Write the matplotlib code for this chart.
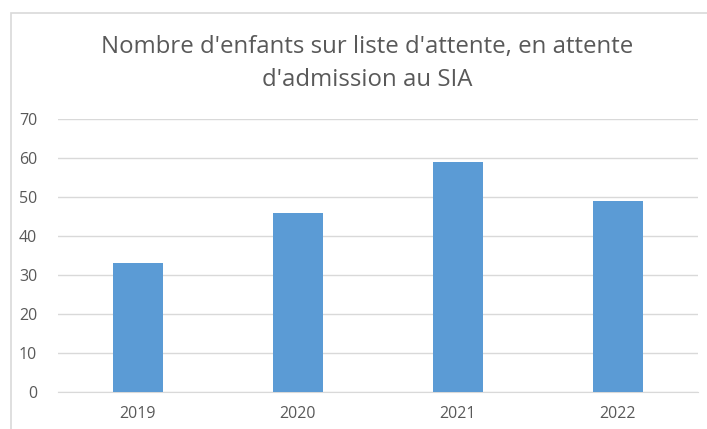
import matplotlib.pyplot as plt
from matplotlib.patches import Rectangle

# Data
years = ['2019', '2020', '2021', '2022']
counts = [33, 46, 59, 49]
y_ticks = [0, 10, 20, 30, 40, 50, 60, 70]

plt.rcParams['font.family'] = ['Open Sans', 'DejaVu Sans']

fig = plt.figure(figsize=(7.07, 4.29), dpi=100)
W, H = 707, 429

# chart frame (cropped on right and bottom in the original)
frame = Rectangle((11 / W, -0.05), 1.0, 1 - 13 / H + 0.05,
                  transform=fig.transFigure, fill=False,
                  edgecolor='#D9D9D9', linewidth=1.2)
fig.patches.append(frame)

ax = fig.add_axes([58 / W, 1 - 392 / H, (698 - 58) / W, (392 - 119) / H])
x = range(len(years))
ax.bar(x, counts, width=0.3125, color='#5B9BD5', zorder=3)

ax.set_xlim(-0.5, len(years) - 0.5)
ax.set_ylim(0, 70)
ax.set_yticks(y_ticks)
ax.set_xticks(list(x))
ax.set_xticklabels(years)
ax.grid(axis='y', color='#D9D9D9', linewidth=1, zorder=0)
for s in ['top', 'right', 'left']:
    ax.spines[s].set_visible(False)
ax.spines['bottom'].set_color('#D9D9D9')
ax.tick_params(axis='both', length=0, labelsize=11.5, labelcolor='#595959')
ax.tick_params(axis='y', pad=15)
ax.tick_params(axis='x', pad=10)

fig.text(0.5 + 14 / W, 1 - 47 / H, "Nombre d'enfants sur liste d'attente, en attente",
         ha='center', va='center', fontsize=17.3, color='#595959')
fig.text(0.5 + 14 / W, 1 - 80 / H, "d'admission au SIA",
         ha='center', va='center', fontsize=17.3, color='#595959')

fig.savefig('out.png', dpi=100)
